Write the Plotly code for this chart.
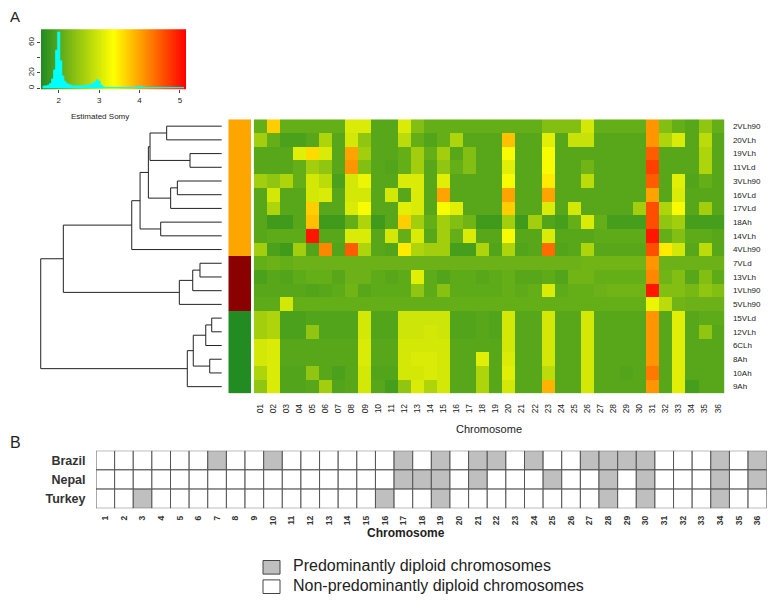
import plotly.graph_objects as go
import numpy as np

W, H = 779, 603
PAGE_OFFSET = 8          # default body margin of the html page
FIG_W, FIG_H = W - PAGE_OFFSET, H - PAGE_OFFSET

# ---------- panel A data ----------
samples = ["2VLh90", "20VLh", "19VLh", "11VLd", "3VLh90", "16VLd", "17VLd", "18Ah", "14VLh", "4VLh90",
           "7VLd", "13VLh", "1VLh90", "5VLh90", "15VLd", "12VLh", "6CLh", "8Ah", "10Ah", "9Ah"]
chromosomes = ["%02d" % i for i in range(1, 37)]
group_code = [0] * 10 + [1] * 4 + [2] * 6   # 0 orange, 1 dark red, 2 green
group_colors = ["#FFA500", "#8B0000", "#228B22"]

somy = [
    [2.1, 3.7, 2.1, 2.1, 2.1, 2.1, 2.1, 3.05, 3.05, 2.0, 2.0, 3.05, 2.35, 2.1, 2.1, 2.1, 2.1, 2.1, 2.1, 2.1, 2.1, 2.1, 2.35, 2.35, 2.35, 3.0, 2.1, 2.1, 2.1, 2.1, 4.1, 2.35, 2.1, 2.0, 2.45, 2.1],
    [2.6, 2.1, 1.9, 1.9, 2.0, 2.7, 2.0, 3.0, 2.45, 2.0, 2.0, 2.8, 2.1, 1.95, 2.1, 2.7, 2.0, 2.0, 2.0, 3.8, 2.0, 2.0, 3.1, 2.0, 2.9, 2.9, 2.0, 2.0, 2.0, 2.0, 4.1, 2.7, 3.05, 2.0, 2.8, 2.0],
    [2.0, 2.0, 2.0, 3.1, 3.6, 3.05, 2.0, 4.0, 2.6, 2.0, 2.0, 2.1, 2.6, 2.1, 2.6, 2.0, 2.35, 2.0, 2.0, 3.3, 2.0, 2.0, 3.3, 2.0, 2.0, 2.0, 2.0, 2.0, 2.0, 2.0, 4.5, 2.0, 2.0, 2.0, 2.7, 2.0],
    [2.0, 2.0, 2.0, 2.1, 2.6, 2.45, 2.0, 4.1, 2.35, 2.0, 1.95, 2.1, 2.6, 2.0, 2.45, 2.1, 2.35, 2.0, 2.0, 3.1, 2.0, 2.0, 3.3, 2.0, 2.0, 2.2, 2.0, 2.0, 2.0, 2.0, 4.7, 2.0, 2.0, 2.0, 2.7, 2.0],
    [2.6, 2.45, 2.7, 2.1, 3.0, 2.8, 1.9, 3.0, 3.2, 2.0, 2.0, 3.05, 3.05, 2.0, 3.1, 2.0, 2.0, 2.0, 2.0, 3.3, 2.0, 2.0, 3.5, 2.0, 2.0, 2.8, 2.0, 2.0, 2.0, 2.0, 4.5, 2.0, 3.1, 1.95, 2.1, 2.0],
    [2.0, 3.0, 2.0, 2.0, 3.0, 3.05, 2.0, 3.0, 3.0, 2.0, 3.0, 2.0, 3.05, 2.0, 4.0, 2.0, 2.0, 2.0, 2.0, 4.0, 2.0, 2.0, 4.0, 2.0, 2.0, 2.0, 2.0, 2.0, 2.0, 2.0, 4.0, 2.0, 3.05, 2.0, 2.0, 2.0],
    [2.0, 2.7, 2.0, 2.0, 3.7, 2.0, 2.0, 3.05, 3.3, 2.0, 2.0, 3.1, 3.05, 2.0, 3.3, 3.1, 2.0, 2.0, 2.0, 3.7, 2.0, 2.0, 3.05, 2.0, 3.0, 2.0, 2.0, 2.0, 2.0, 2.6, 4.6, 2.7, 3.3, 2.0, 2.6, 2.0],
    [2.0, 1.8, 1.8, 2.0, 3.8, 1.8, 1.8, 2.1, 2.7, 1.8, 2.0, 3.7, 2.6, 2.1, 2.6, 2.35, 2.2, 1.8, 1.8, 2.6, 1.8, 2.6, 1.95, 1.85, 2.1, 3.05, 2.1, 1.85, 1.85, 1.85, 4.6, 2.45, 2.6, 1.85, 1.85, 1.85],
    [2.0, 2.05, 2.05, 2.05, 5.0, 2.0, 2.0, 3.05, 3.05, 2.0, 3.0, 2.1, 3.05, 2.0, 2.6, 2.1, 3.05, 2.0, 2.0, 3.3, 2.0, 2.0, 3.05, 2.0, 2.0, 2.0, 2.05, 2.05, 2.05, 2.05, 5.0, 2.1, 2.35, 2.05, 2.05, 2.0],
    [2.6, 1.9, 1.8, 2.6, 1.95, 4.2, 1.95, 4.5, 2.7, 2.0, 1.95, 3.5, 2.7, 2.6, 2.6, 1.85, 1.85, 2.7, 1.95, 2.7, 1.95, 2.0, 4.4, 1.95, 2.0, 2.7, 2.0, 2.0, 2.0, 2.0, 4.6, 3.5, 3.0, 2.0, 2.8, 2.0],
    [2.1, 2.15, 2.1, 2.15, 2.15, 2.15, 2.15, 2.15, 2.15, 2.15, 2.15, 2.15, 2.15, 2.15, 2.15, 2.15, 2.15, 2.15, 2.15, 2.15, 2.15, 2.15, 2.15, 2.15, 2.15, 2.2, 2.2, 2.2, 2.2, 2.2, 4.1, 2.15, 2.15, 2.15, 2.15, 2.15],
    [1.9, 2.0, 1.95, 2.05, 2.1, 2.1, 2.0, 2.15, 2.15, 2.05, 2.0, 2.05, 3.1, 2.05, 1.95, 2.05, 2.05, 2.0, 2.05, 2.1, 2.0, 2.0, 2.05, 1.95, 2.2, 2.2, 2.1, 2.1, 2.1, 2.1, 4.2, 2.2, 2.35, 2.0, 2.35, 2.05],
    [2.0, 2.0, 2.0, 2.0, 1.95, 2.0, 2.05, 2.2, 2.0, 2.05, 2.05, 2.05, 2.45, 2.05, 2.4, 2.05, 2.05, 2.05, 2.05, 2.1, 2.05, 2.1, 3.05, 2.05, 2.1, 2.1, 2.15, 2.2, 2.2, 2.2, 5.0, 2.35, 2.35, 2.25, 2.45, 2.35],
    [2.05, 2.05, 3.0, 2.1, 2.1, 2.1, 2.1, 2.1, 2.1, 2.1, 2.1, 2.1, 2.1, 2.1, 2.1, 2.1, 2.1, 2.1, 2.1, 2.1, 2.1, 2.1, 2.1, 2.1, 2.1, 2.1, 2.1, 2.1, 2.1, 2.1, 3.2, 2.8, 2.2, 2.15, 2.15, 2.15],
    [2.6, 2.7, 1.9, 1.9, 1.95, 1.95, 1.95, 1.95, 3.0, 1.95, 1.95, 2.95, 2.95, 2.95, 2.95, 1.95, 1.95, 2.0, 1.95, 3.0, 2.0, 2.0, 3.0, 2.0, 2.0, 3.0, 2.0, 2.0, 2.0, 2.0, 4.1, 2.0, 3.1, 2.0, 2.05, 2.05],
    [2.6, 2.7, 1.9, 1.9, 2.45, 1.95, 1.95, 1.95, 3.0, 1.95, 1.95, 2.95, 2.95, 3.0, 2.95, 1.95, 1.95, 2.0, 1.95, 3.0, 2.0, 2.0, 3.0, 2.0, 2.0, 3.0, 2.0, 2.0, 2.0, 2.0, 4.1, 2.0, 3.1, 2.0, 2.45, 2.0],
    [3.0, 3.05, 2.0, 2.0, 2.0, 2.0, 2.0, 2.0, 3.05, 2.0, 2.0, 3.0, 3.0, 3.0, 3.0, 2.0, 2.0, 2.0, 2.0, 3.0, 2.0, 2.0, 3.0, 2.0, 2.0, 3.0, 2.0, 2.0, 2.0, 2.0, 4.1, 2.0, 3.1, 2.0, 2.0, 2.0],
    [3.0, 3.05, 2.0, 2.0, 2.0, 2.0, 2.0, 2.0, 3.05, 2.0, 2.0, 3.0, 3.05, 3.05, 3.0, 2.0, 2.0, 3.1, 2.0, 3.05, 2.0, 2.0, 3.0, 2.0, 2.0, 3.0, 2.0, 2.0, 2.0, 2.0, 4.1, 2.0, 3.1, 2.0, 2.0, 2.0],
    [2.7, 3.05, 1.95, 1.95, 2.45, 2.0, 1.9, 2.0, 3.0, 1.95, 1.95, 3.0, 3.0, 3.05, 3.0, 2.0, 2.0, 2.7, 2.0, 3.1, 2.0, 2.0, 2.8, 2.0, 2.0, 3.0, 2.0, 2.0, 1.95, 2.0, 4.3, 2.0, 3.1, 2.0, 2.0, 2.0],
    [2.45, 3.05, 1.95, 1.95, 2.0, 2.6, 1.95, 2.0, 3.0, 2.0, 1.85, 2.45, 3.05, 2.7, 3.0, 2.0, 2.0, 2.7, 2.0, 3.0, 2.0, 2.0, 3.9, 2.0, 2.0, 3.0, 2.0, 2.0, 2.0, 2.0, 4.1, 2.0, 3.1, 1.85, 2.0, 2.0],
]

# dendrogram merges (scipy-like: ids >= 20 are earlier merges), heights
merges = [
    (0, 1, 3.04), (2, 3, 1.75), (20, 21, 3.96), (4, 5, 2.45), (23, 6, 2.82),
    (22, 24, 4.05), (7, 8, 3.37), (25, 26, 4.51), (27, 9, 4.97),
    (10, 11, 1.20), (29, 12, 1.60), (30, 13, 2.34), (28, 31, 8.75),
    (14, 15, 0.55), (33, 16, 0.88), (17, 18, 0.66), (34, 35, 1.57), (36, 19, 1.90),
    (32, 37, 10.0),
]

# colour key histogram
hist_somy = [1.60, 1.65, 1.70, 1.75, 1.80, 1.85, 1.90, 1.95, 2.00, 2.05, 2.10, 2.15, 2.20, 2.25, 2.30,
             2.35, 2.40, 2.45, 2.50, 2.55, 2.60, 2.65, 2.70, 2.75, 2.80, 2.85, 2.90, 2.95, 3.00, 3.05,
             3.10, 3.15, 3.20, 3.30, 3.40, 3.50, 3.60, 3.70, 3.80, 3.90, 3.95, 4.00, 4.05, 4.10, 4.20,
             4.30, 4.40, 4.50, 4.60, 4.70, 4.80, 4.90, 5.00, 5.10]
hist_count = [2, 3, 3, 4, 6, 12, 24, 50, 74, 36, 16, 9, 6, 5, 4,
              3, 3, 3, 3, 3, 3, 3, 4, 4, 5, 6, 8, 11, 9, 4,
              2, 1, 1, 1, 1, 1, 1, 1, 1, 1, 2, 2, 2, 1, 1,
              1, 1, 1, 1, 1, 1, 1, 1, 1]

# ---------- panel B data ----------
countries = ["Brazil", "Nepal", "Turkey"]
chrom_nums = list(range(1, 37))
diploid_brazil = [7, 10, 17, 19, 21, 22, 24, 27, 28, 29, 30, 34, 36]
diploid_nepal = [17, 18, 19, 21, 25, 28, 30, 34, 36]
diploid_turkey = [3, 16, 19, 28, 30, 34]
diploid_sets = [diploid_brazil, diploid_nepal, diploid_turkey]

ZMIN, ZMAX = 1.56, 5.15
somy_scale = [[0, "#228B22"], [0.5, "#FFFF00"], [1, "#FF0000"]]
FONT = "Liberation Sans"


def px_x(p):
    return (p - PAGE_OFFSET) / FIG_W


def px_y(p):
    return 1 - (p - PAGE_OFFSET) / FIG_H


fig = go.Figure()

# main heatmap
fig.add_trace(go.Heatmap(z=somy, x=list(range(36)), y=list(range(20)),
                         colorscale=somy_scale, zmin=ZMIN, zmax=ZMAX, showscale=False,
                         xaxis="x", yaxis="y"))

# side colour bar
fig.add_trace(go.Heatmap(z=[[g] for g in group_code], x=[0], y=list(range(20)),
                         colorscale=[[0, group_colors[0]], [0.33, group_colors[0]],
                                     [0.34, group_colors[1]], [0.66, group_colors[1]],
                                     [0.67, group_colors[2]], [1, group_colors[2]]],
                         zmin=0, zmax=2, showscale=False, xaxis="x2", yaxis="y2"))

# dendrogram
pos = {i: (float(i), 0.0) for i in range(len(samples))}
dx, dy = [], []
for k, (a, b, h) in enumerate(merges):
    ya, ha = pos[a]
    yb, hb = pos[b]
    dx += [ha, h, h, hb, None]
    dy += [ya, ya, yb, yb, None]
    pos[len(samples) + k] = ((ya + yb) / 2, h)
fig.add_trace(go.Scatter(x=dx, y=dy, mode="lines", line=dict(color="#222222", width=1),
                         xaxis="x3", yaxis="y3", hoverinfo="skip"))

# colour key: gradient + histogram
n_grad = 180
fig.add_trace(go.Heatmap(z=[list(np.linspace(ZMIN, ZMAX, n_grad))], x0=ZMIN + (ZMAX - ZMIN) / n_grad / 2,
                         dx=(ZMAX - ZMIN) / n_grad, y0=38, dy=82,
                         colorscale=somy_scale, zmin=ZMIN, zmax=ZMAX, showscale=False,
                         xaxis="x4", yaxis="y4"))
fig.add_trace(go.Scatter(x=hist_somy, y=hist_count, mode="lines", line=dict(color="#00FFFF", width=1, shape="hvh"),
                         fill="tozeroy", fillcolor="#00FFFF", xaxis="x4", yaxis="y4", hoverinfo="skip"))

# panel B table
for r, (name, dset) in enumerate(zip(countries, diploid_sets)):
    cols = ["#BFBFBF" if c in dset else "#FFFFFF" for c in chrom_nums]
    fig.add_trace(go.Bar(x=chrom_nums, y=[1] * 36, base=[2 - r] * 36, width=1,
                         marker=dict(color=cols, line=dict(color="#555555", width=1)),
                         xaxis="x5", yaxis="y5", name=name))

hm_top, hm_bot = 119.3, 393.5
hidden = dict(visible=False, showgrid=False, zeroline=False)

fig.update_layout(
    width=FIG_W, height=FIG_H, margin=dict(l=0, r=0, t=0, b=0),
    paper_bgcolor="white", plot_bgcolor="white", showlegend=False, barmode="overlay",
    font=dict(family=FONT, color="#222222"),
    xaxis=dict(domain=[px_x(253.7), px_x(724.3)], range=[-0.5, 35.5], anchor="y",
               tickvals=list(range(36)), ticktext=chromosomes, tickangle=-90,
               tickfont=dict(size=8.5), ticks="outside", ticklen=6, tickcolor="rgba(0,0,0,0)",
               showgrid=False, zeroline=False, showline=False),
    yaxis=dict(domain=[px_y(hm_bot), px_y(hm_top)], range=[19.5, -0.5], anchor="x", side="right",
               tickvals=list(range(20)), ticktext=samples, tickfont=dict(size=8),
               ticks="outside", ticklen=6, tickcolor="rgba(0,0,0,0)",
               showgrid=False, zeroline=False, showline=False),
    xaxis2=dict(domain=[px_x(228.3), px_x(251)], range=[-0.5, 0.5], anchor="y2", **hidden),
    yaxis2=dict(domain=[px_y(hm_bot), px_y(hm_top)], range=[19.5, -0.5], anchor="x2", **hidden),
    xaxis3=dict(domain=[px_x(37.1), px_x(225.3)], range=[10.2, -0.2], anchor="y3", **hidden),
    yaxis3=dict(domain=[px_y(hm_bot), px_y(hm_top)], range=[19.5, -0.5], anchor="x3", **hidden),
    xaxis4=dict(domain=[px_x(41), px_x(186)], range=[ZMIN, ZMAX], anchor="y4",
                tickvals=[2, 3, 4, 5], tickfont=dict(size=8), ticks="outside", ticklen=3,
                tickcolor="#444", showgrid=False, zeroline=False, showline=False),
    yaxis4=dict(domain=[px_y(89.3), px_y(29.3)], range=[-1.5, 77.6], anchor="x4",
                tickvals=[0, 20, 40, 60], ticktext=["0", "20", "", "60"], tickangle=-90,
                tickfont=dict(size=8), ticks="outside", ticklen=3, tickcolor="#444",
                showgrid=False, zeroline=False, showline=False),
    xaxis5=dict(domain=[px_x(96), px_x(766.7)], range=[0.5, 36.5], anchor="y5",
                tickvals=chrom_nums, tickangle=-90, tickfont=dict(size=8.5, weight="bold", color="#333"),
                ticks="outside", ticklen=3, tickcolor="rgba(0,0,0,0)",
                showgrid=False, zeroline=False, showline=False),
    yaxis5=dict(domain=[px_y(508.3), px_y(450.7)], range=[0, 3], anchor="x5",
                tickvals=[2.5, 1.5, 0.5], ticktext=countries,
                tickfont=dict(size=12.5, weight="bold", color="#333"),
                ticks="outside", ticklen=7, tickcolor="rgba(0,0,0,0)",
                showgrid=False, zeroline=False, showline=False),
)

annots = [
    dict(text="A", x=px_x(15), y=px_y(17), size=15),
    dict(text="B", x=px_x(15), y=px_y(442), size=16),
    dict(text="Estimated Somy", x=px_x(100), y=px_y(116.5), size=8),
    dict(text="Chromosome", x=px_x(489), y=px_y(429), size=11),
    dict(text="<b>Chromosome</b>", x=px_x(406), y=px_y(533), size=12),
]
for a in annots:
    fig.add_annotation(text=a["text"], x=a["x"], y=a["y"], xref="paper", yref="paper",
                       showarrow=False, xanchor="center", yanchor="middle",
                       font=dict(size=a["size"], color="#222222"))

legend_items = [("Predominantly diploid chromosomes", "#BFBFBF", 567.3),
                ("Non-predominantly diploid chromosomes", "#FFFFFF", 586.7)]
for label, col, yc in legend_items:
    fig.add_shape(type="rect", xref="paper", yref="paper",
                  x0=px_x(263), x1=px_x(280), y0=px_y(yc + 6.8), y1=px_y(yc - 6.8),
                  fillcolor=col, line=dict(color="#444444", width=1))
    fig.add_annotation(text=label, x=px_x(290.5), y=px_y(yc - 1.5), xref="paper", yref="paper",
                       showarrow=False, xanchor="left", yanchor="middle",
                       font=dict(size=16, color="#222222"))

fig.write_html("out.html")
